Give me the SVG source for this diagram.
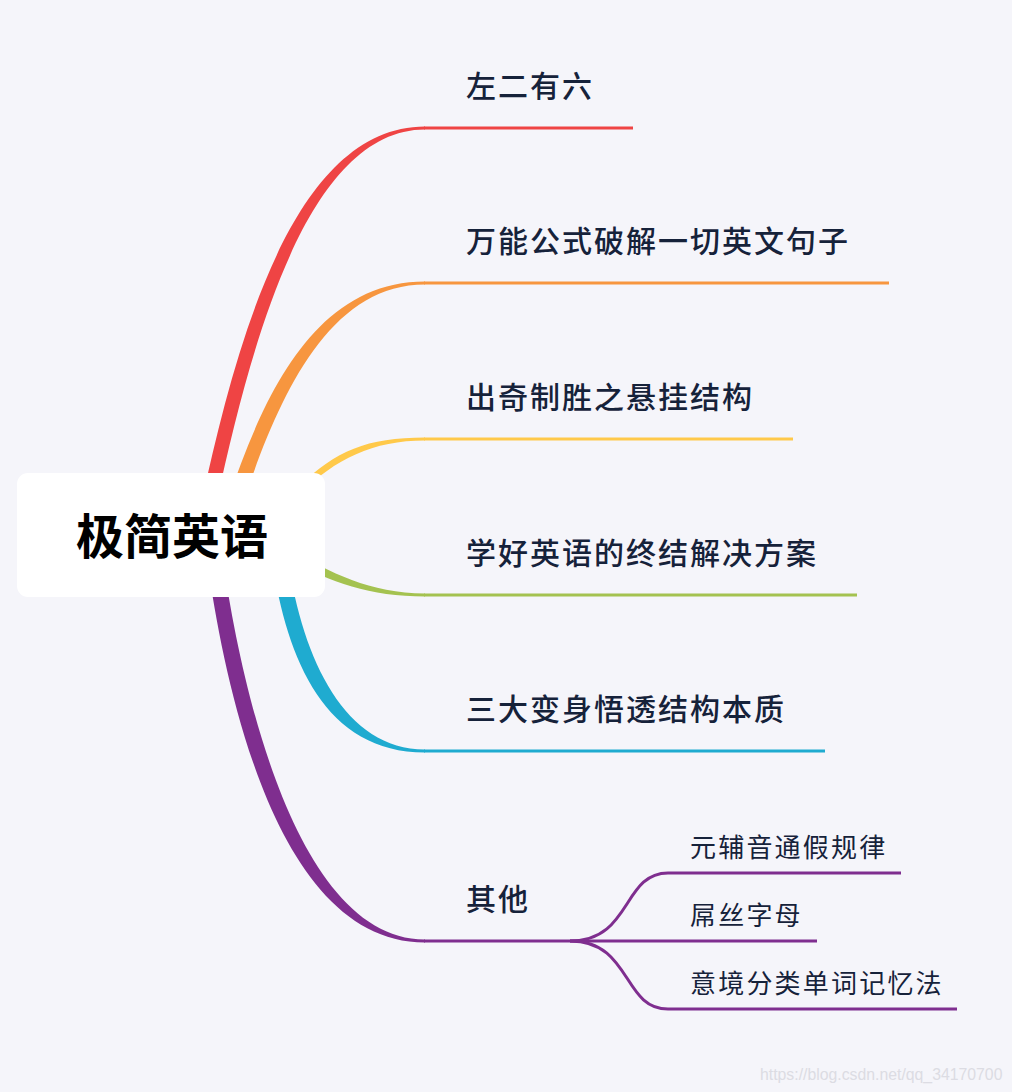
<svg xmlns="http://www.w3.org/2000/svg" width="1012" height="1092" viewBox="0 0 1012 1092">
<style>
.main{font-family:"Noto Sans CJK SC","Noto Sans",sans-serif;font-size:30px;font-weight:500;fill:#16223a;letter-spacing:2px}
.sub{font-family:"Noto Sans CJK SC","Noto Sans",sans-serif;font-size:26px;font-weight:400;fill:#16223a;letter-spacing:2.2px}
.title{font-family:"Noto Sans CJK SC","Noto Sans",sans-serif;font-size:48px;font-weight:700;fill:#000;text-anchor:middle}
.ln{fill:none;stroke-width:3;stroke-linecap:butt}
.wm{font-family:"Liberation Sans",Arial,sans-serif;font-size:15.8px;fill:#dcdce3}
</style>
<rect width="1012" height="1092" fill="#f5f5fa"/>
<g id="connectors">
  <path fill="#ef4444" d="M202,500 C236,345 293,126.5 425,126.5 L425,129.5 C307,129.5 251,345 217,500 Z"/>
  <line class="ln" stroke="#ef4444" x1="424" y1="128" x2="633" y2="128"/>
  <path fill="#f7963f" d="M228,500 C262,400 313,281.5 425,281.5 L425,284.5 C327,284.5 278,400 244,500 Z"/>
  <line class="ln" stroke="#f7963f" x1="424" y1="283" x2="889" y2="283"/>
  <path fill="#ffc94a" d="M300,486 C335,451 367,437.5 425,437.5 L425,440.5 C373,440.5 335,459 300,494 Z"/>
  <line class="ln" stroke="#ffc94a" x1="424" y1="439" x2="793" y2="439"/>
  <path fill="#a4c250" d="M290,550 C330,572 370,593.5 425,593.5 L425,596.5 C370,596.5 330,582 290,560 Z"/>
  <line class="ln" stroke="#a4c250" x1="424" y1="595" x2="857" y2="595"/>
  <path fill="#1fabd0" d="M272,560 C287,660 325,752.5 425,752.5 L425,749.5 C345,749.5 303,660 288,560 Z"/>
  <line class="ln" stroke="#1fabd0" x1="424" y1="751" x2="825" y2="751"/>
  <path fill="#7f2e8f" d="M207,560 C227,700 280,942.5 425,942.5 L425,939.5 C300,939.5 243,700 223,560 Z"/>
  <line class="ln" stroke="#7f2e8f" x1="424" y1="941" x2="817" y2="941"/>
  <path class="ln" stroke="#7f2e8f" d="M570,941 C632,941 622,873 668,873 L901,873"/>
  <path class="ln" stroke="#7f2e8f" d="M570,941 C632,941 622,1009 668,1009 L957,1009"/>
</g>
<g id="root">
  <rect x="17" y="473" width="308" height="124" rx="11" fill="#ffffff"/>
  <text class="title" x="172" y="554">极简英语</text>
</g>
<g id="n1"><text class="main" x="466" y="97">左二有六</text></g>
<g id="n2"><text class="main" x="466" y="252">万能公式破解一切英文句子</text></g>
<g id="n3"><text class="main" x="466" y="408">出奇制胜之悬挂结构</text></g>
<g id="n4"><text class="main" x="466" y="564">学好英语的终结解决方案</text></g>
<g id="n5"><text class="main" x="466" y="720">三大变身悟透结构本质</text></g>
<g id="n6"><text class="main" x="466" y="910">其他</text></g>
<g id="n6a"><text class="sub" x="690" y="857">元辅音通假规律</text></g>
<g id="n6b"><text class="sub" x="690" y="925">屌丝字母</text></g>
<g id="n6c"><text class="sub" x="690" y="993">意境分类单词记忆法</text></g>
<text class="wm" x="760" y="1080">https://blog.csdn.net/qq_34170700</text>
</svg>
